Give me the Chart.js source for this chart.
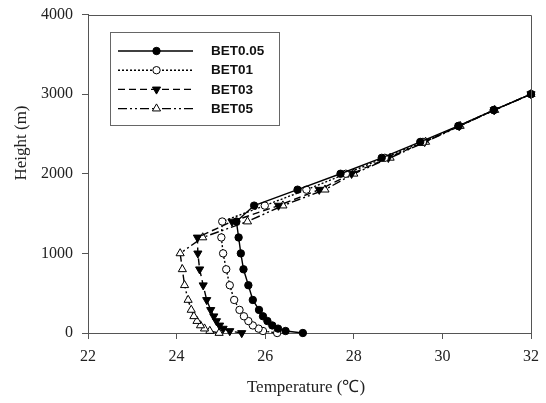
<!DOCTYPE html>
<html><head><meta charset="utf-8">
<script src="https://cdn.jsdelivr.net/npm/chart.js@4/dist/chart.umd.min.js"></script>
<style>html,body{margin:0;padding:0;background:#fff}</style>
</head><body>
<canvas id="c" width="546" height="403"></canvas>
<script>
// ---- data ----
const seriesNames = ['BET0.05', 'BET01', 'BET03', 'BET05'];
const heights = [0, 25, 55, 95, 150, 210, 290, 415, 600, 800, 1000, 1200, 1400, 1600, 1800, 2000, 2200, 2400, 2600, 2800, 3000];
const tempBET005 = [26.85, 26.46, 26.29, 26.16, 26.05, 25.95, 25.86, 25.72, 25.62, 25.51, 25.45, 25.40, 25.35, 25.75, 26.73, 27.70, 28.63, 29.50, 30.36, 31.16, 32.00];
const tempBET01  = [26.27, 25.95, 25.85, 25.72, 25.62, 25.52, 25.42, 25.30, 25.20, 25.12, 25.05, 25.01, 25.03, 25.99, 26.93, 27.82, 28.70, 29.56, 30.37, 31.16, 32.00];
const tempBET03  = [25.47, 25.20, 25.05, 24.97, 24.90, 24.84, 24.77, 24.68, 24.60, 24.52, 24.48, 24.47, 25.25, 26.30, 27.22, 27.95, 28.78, 29.60, 30.38, 31.17, 32.00];
const tempBET05  = [24.96, 24.75, 24.63, 24.54, 24.46, 24.39, 24.33, 24.26, 24.18, 24.13, 24.08, 24.59, 25.60, 26.40, 27.35, 28.00, 28.82, 29.62, 30.40, 31.18, 32.00];
const xTicks = [22, 24, 26, 28, 30, 32];
const yTicks = [0, 1000, 2000, 3000, 4000];
const xTitle = 'Temperature (\u2103)';
const yTitle = 'Height (m)';

const seriesTemps = [tempBET005, tempBET01, tempBET03, tempBET05];
const styles = [
  {dash: [], style: 'circle', rot: 0, r: 3.7, fill: '#000'},
  {dash: [2, 2], style: 'circle', rot: 0, r: 3.7, fill: '#fff'},
  {dash: [7, 4], style: 'triangle', rot: 180, r: 4.7, fill: '#000'},
  {dash: [9, 3, 2, 3, 2, 3], style: 'triangle', rot: 0, r: 4.7, fill: '#fff'}
];

const datasets = seriesNames.map((name, i) => ({
  label: name,
  data: heights.map((h, k) => ({x: seriesTemps[i][k], y: h})),
  borderColor: '#000',
  borderWidth: 1.4,
  borderDash: styles[i].dash,
  pointStyle: styles[i].style,
  pointRotation: styles[i].rot,
  pointRadius: styles[i].r,
  pointBorderWidth: 1,
  pointBorderColor: '#000',
  pointBackgroundColor: styles[i].fill,
  tension: 0,
  fill: false,
  clip: false
}));

function drawMarker(ctx, st, x, y) {
  ctx.save();
  ctx.setLineDash([]);
  ctx.lineWidth = 1;
  ctx.strokeStyle = '#000';
  ctx.fillStyle = st.fill;
  ctx.beginPath();
  if (st.style === 'circle') {
    ctx.arc(x, y, st.r, 0, Math.PI * 2);
  } else {
    let rad = st.rot * Math.PI / 180;
    for (let k = 0; k < 3; k++) {
      const px = x + Math.sin(rad) * st.r, py = y - Math.cos(rad) * st.r;
      if (k === 0) ctx.moveTo(px, py); else ctx.lineTo(px, py);
      rad += 2 * Math.PI / 3;
    }
    ctx.closePath();
  }
  ctx.fill();
  ctx.stroke();
  ctx.restore();
}

const decor = {
  id: 'decor',
  afterDraw(chart) {
    const ctx = chart.ctx, a = chart.chartArea;
    ctx.save();
    ctx.strokeStyle = '#555';
    ctx.lineWidth = 1;
    ctx.beginPath();
    ctx.moveTo(Math.round(a.left) + 0.5, Math.round(a.top) + 0.5);
    ctx.lineTo(Math.round(a.right) + 0.5, Math.round(a.top) + 0.5);
    ctx.lineTo(Math.round(a.right) + 0.5, Math.round(a.bottom) + 0.5);
    ctx.stroke();
    ctx.fillStyle = '#222';
    ctx.font = '17px "Liberation Serif", "Times New Roman", serif';
    ctx.textAlign = 'center';
    ctx.textBaseline = 'middle';
    ctx.fillText(xTitle, 306, 388);
    ctx.save();
    ctx.translate(22, 143);
    ctx.rotate(-Math.PI / 2);
    ctx.fillText(yTitle, 0, 0);
    ctx.restore();
    const bx = 110.5, by = 32.5, bw = 169, bh = 93;
    ctx.fillStyle = '#fff';
    ctx.fillRect(bx, by, bw, bh);
    ctx.strokeStyle = '#666';
    ctx.lineWidth = 1;
    ctx.strokeRect(bx, by, bw, bh);
    ctx.font = 'bold 13.5px "Liberation Sans", Arial, sans-serif';
    ctx.textAlign = 'left';
    seriesNames.forEach((name, i) => {
      const y = 51 + i * 19.2;
      ctx.save();
      ctx.strokeStyle = '#000';
      ctx.lineWidth = 1.4;
      ctx.setLineDash(styles[i].dash);
      ctx.beginPath();
      ctx.moveTo(118, y);
      ctx.lineTo(193, y);
      ctx.stroke();
      ctx.restore();
      drawMarker(ctx, styles[i], 156.5, y);
      ctx.fillStyle = '#111';
      ctx.fillText(name, 211, y + 0.5);
    });
    ctx.restore();
  }
};

new Chart(document.getElementById('c'), {
  type: 'line',
  data: {datasets},
  plugins: [decor],
  options: {
    responsive: false,
    animation: false,
    devicePixelRatio: 1,
    layout: {padding: {top: 14.5, right: 15, left: 0, bottom: 0}},
    plugins: {legend: {display: false}, tooltip: {enabled: false}},
    scales: {
      x: {
        type: 'linear', min: 22, max: 32,
        afterBuildTicks: s => { s.ticks = xTicks.map(v => ({value: v})); },
        afterFit: s => { s.height = 70; s.paddingLeft = 0; s.paddingRight = 0; },
        grid: {display: true, drawOnChartArea: false, tickLength: 6, color: '#555'},
        border: {color: '#555', width: 1},
        ticks: {color: '#222', font: {family: '"Liberation Serif", serif', size: 16}, padding: 8, maxRotation: 0,
                callback: v => String(v)}
      },
      y: {
        type: 'linear', min: 0, max: 4000,
        afterBuildTicks: s => { s.ticks = yTicks.map(v => ({value: v})); },
        afterFit: s => { s.width = 88; s.paddingTop = 0; s.paddingBottom = 0; },
        grid: {display: true, drawOnChartArea: false, tickLength: 6, color: '#555'},
        border: {color: '#555', width: 1},
        ticks: {color: '#222', font: {family: '"Liberation Serif", serif', size: 16}, padding: 9,
                callback: v => String(v)}
      }
    }
  }
});
</script>
</body></html>
